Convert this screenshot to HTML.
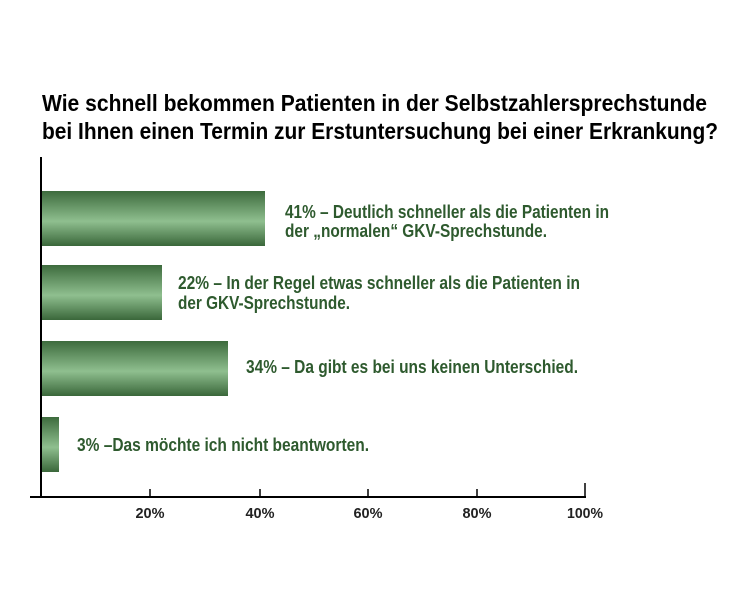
<!DOCTYPE html>
<html><head><meta charset="utf-8"><style>
html,body{margin:0;padding:0;background:#fff}
svg{display:block}
text{font-family:"Liberation Sans Narrow","Liberation Sans",sans-serif;font-weight:bold}
</style></head><body>
<svg width="750" height="600" viewBox="0 0 750 600" xmlns="http://www.w3.org/2000/svg">
<defs>
<linearGradient id="g" x1="0" y1="0" x2="0" y2="1">
<stop offset="0" stop-color="#3d6b3d"/>
<stop offset="0.55" stop-color="#8fbf8f"/>
<stop offset="1" stop-color="#3a673a"/>
</linearGradient>
</defs>
<text x="42" y="111" font-size="23" fill="#000" textLength="665" lengthAdjust="spacingAndGlyphs">Wie schnell bekommen Patienten in der Selbstzahlersprechstunde</text>
<text x="42" y="139" font-size="23" fill="#000" textLength="676" lengthAdjust="spacingAndGlyphs">bei Ihnen einen Termin zur Erstuntersuchung bei einer Erkrankung?</text>
<rect x="42" y="191" width="223" height="55" fill="url(#g)"/>
<rect x="42" y="265" width="120" height="55" fill="url(#g)"/>
<rect x="42" y="341" width="186" height="55" fill="url(#g)"/>
<rect x="42" y="417" width="17" height="55" fill="url(#g)"/>
<line x1="41" y1="157" x2="41" y2="498" stroke="#000" stroke-width="2"/>
<line x1="30" y1="497" x2="586" y2="497" stroke="#000" stroke-width="2"/>
<g stroke="#000" stroke-width="1.5">
<line x1="150" y1="489" x2="150" y2="497"/><line x1="260" y1="489" x2="260" y2="497"/>
<line x1="368" y1="489" x2="368" y2="497"/><line x1="477" y1="489" x2="477" y2="497"/>
<line x1="585" y1="483" x2="585" y2="497"/>
</g>
<g font-size="15" fill="#222" text-anchor="middle">
<text x="150" y="518" textLength="29" lengthAdjust="spacingAndGlyphs">20%</text><text x="260" y="518" textLength="29" lengthAdjust="spacingAndGlyphs">40%</text><text x="368" y="518" textLength="29" lengthAdjust="spacingAndGlyphs">60%</text><text x="477" y="518" textLength="29" lengthAdjust="spacingAndGlyphs">80%</text><text x="585" y="518" textLength="36" lengthAdjust="spacingAndGlyphs">100%</text>
</g>
<g font-size="18" fill="#2e5a2e">
<text x="285" y="218" textLength="324" lengthAdjust="spacingAndGlyphs">41% – Deutlich schneller als die Patienten in</text>
<text x="285" y="237" textLength="262" lengthAdjust="spacingAndGlyphs">der „normalen“ GKV-Sprechstunde.</text>
<text x="178" y="289" textLength="402" lengthAdjust="spacingAndGlyphs">22% – In der Regel etwas schneller als die Patienten in</text>
<text x="178" y="309" textLength="172" lengthAdjust="spacingAndGlyphs">der GKV-Sprechstunde.</text>
<text x="246" y="373" textLength="332" lengthAdjust="spacingAndGlyphs">34% – Da gibt es bei uns keinen Unterschied.</text>
<text x="77" y="451" textLength="292" lengthAdjust="spacingAndGlyphs">3% –Das möchte ich nicht beantworten.</text>
</g>
</svg>
</body></html>
